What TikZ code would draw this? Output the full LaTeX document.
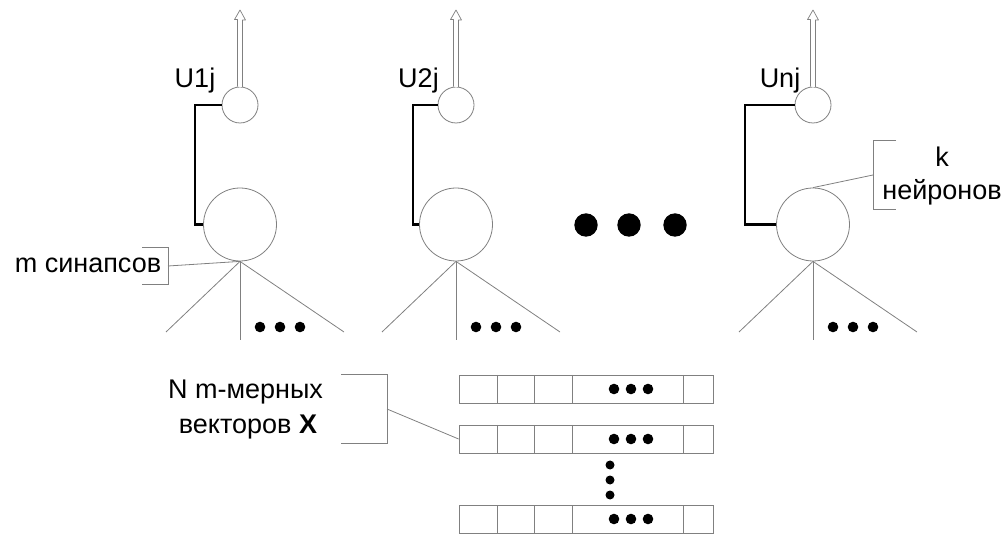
\documentclass[tikz,border=0pt]{standalone}
\usepackage{fontspec}
\setmainfont{Liberation Sans}
\definecolor{linegray}{gray}{0.5}

\begin{document}
\begin{tikzpicture}[x=1pt,y=-1pt,
  leg/.style={draw=linegray, line width=0.8pt},
  soma/.style={circle, draw=linegray, line width=0.8pt, fill=white, inner sep=0pt, minimum size=73pt},
  outcell/.style={circle, draw=linegray, line width=0.8pt, fill=white, inner sep=0pt, minimum size=36pt},
  feed/.style={draw=black, line width=2.2pt},
  outarrow/.style={draw=linegray, line width=0.7pt, fill=white, line join=round},
  vecrow/.style={rectangle, draw=linegray, line width=0.8pt, inner sep=0pt, minimum width=254pt, minimum height=28pt},
  lbl/.style={anchor=base, inner sep=0pt, font=\fontsize{27}{32}\selectfont},
  dot/.style={fill=black}
]
\useasboundingbox (0,0) rectangle (1007,534);

% three neurons: soma, output cell, feedback wire, hollow output arrow, synapse legs
\foreach \i/\cx/\fx/\lab/\lx in {1/240/195/U1j/195, 2/456/413/U2j/418.5, 3/813/745/Unj/780} {
  \node[soma] (b\i) at (\cx,224.5) {};
  \node[outcell] (s\i) at (\cx,105) {};
  \coordinate (t\i) at (\cx,10);
  \draw[outarrow] (s\i.north) ++(-2.5,0) -- ++(0,-67) -- ++(-3,0) -- (t\i)
        -- ++(5.5,10) -- ++(-3,0) -- ++(0,67);
  \coordinate (c\i) at (\fx,224.5);
  \draw[feed] (s\i.west) -| (c\i) -- (b\i.west);
  \node[lbl] (u\i) at (\lx,88) {\lab};
  \coordinate (la\i) at (\cx-74,332);
  \coordinate (lb\i) at (\cx,340);
  \coordinate (lc\i) at (\cx+104,332);
  \draw[leg] (b\i.south) -- (la\i);
  \draw[leg] (b\i.south) -- (lb\i);
  \draw[leg] (b\i.south) -- (lc\i);
  \foreach \d in {20,40,60} \fill[dot] (\cx+\d,327) circle (5.3);
}

% ellipsis between the neurons
\foreach \x in {586,629,675} \fill[dot] (\x,225) circle (11.7);

% synapse bracket
\draw[leg] (142,247) -- (168,247) -- (168,284) -- (142,284);
\coordinate (mb) at (168,266);
\draw[leg] (mb) -- (b1.south);
\node[lbl] (msyn) at (88,273) {m синапсов};

% neuron bracket
\draw[leg] (896,140) -- (873,140) -- (873,209) -- (896,209);
\coordinate (kb) at (873,175);
\draw[leg] (kb) -- (b3.north);
\node[lbl] (kk) at (942,167) {k};
\node[lbl] (kn) at (942,200) {нейронов};

% input vectors
\node[vecrow] (v1) at (586,389) {};
\node[vecrow] (v2) at (586,439) {};
\node[vecrow] (v3) at (586,519) {};
\foreach \y in {389,439,519} {
  \foreach \d in {497,534,572,683} \draw[leg] (\d,\y-14) -- (\d,\y+14);
  \foreach \d in {614,631,648} \fill[dot] (\d,\y) circle (5.3);
}
\foreach \y in {465,480,495} \fill[dot] (610,\y) circle (4.5);

% vector bracket
\draw[leg] (341,374) -- (387,374) -- (387,443) -- (341,443);
\coordinate (nb) at (387,409);
\draw[leg] (nb) -- (v2.west);
\node[lbl] (nv1) at (245.5,399) {N m-мерных};
\node[lbl] (nv2) at (248,434) {векторов \textbf{X}};
\end{tikzpicture}
\end{document}
